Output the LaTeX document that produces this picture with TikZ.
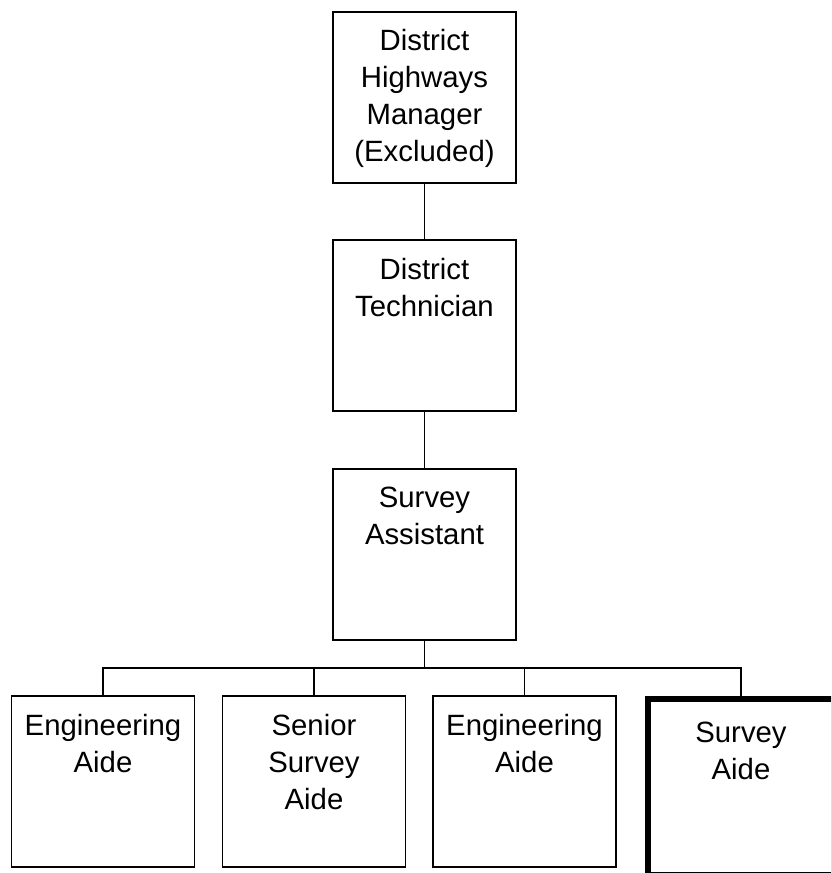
\documentclass[tikz,border=0pt]{standalone}
\usepackage{fontspec}
\setmainfont{Liberation Sans}
\tikzset{
  post/.style={draw, line width=1.3pt, inner sep=0pt, minimum width=137.25pt, minimum height=128.25pt, font=\fontsize{22pt}{27.75pt}\selectfont},
  keypost/.style={post, line width=4.5pt, minimum width=139.5pt, minimum height=132pt},
  link/.style={line width=1.3pt}
}
\newcommand{\posttext}[2][13.5pt]{\parbox[c][128.25pt][t]{137.25pt}{\centering\vspace*{#1}#2}}

\begin{document}
\begin{tikzpicture}[x=0.75pt,y=-0.75pt]
  \useasboundingbox (0,0) rectangle (831,873);
  \clip (0,0) rectangle (831,873);
  % chain of posts
  \node[post] (dhm) at (424.5,97.5) {\posttext[12.75pt]{District\\Highways\\Manager\\(Excluded)}};
  \node[post] (dtech) at (424.5,325.5) {\posttext{District\\Technician}};
  \node[post] (sassist) at (424.5,554.5) {\posttext{Survey\\Assistant}};
  \coordinate (bus) at (424.5,668);
  % bottom row
  \node[post] (eaide1) at (103,781.5) {\posttext{Engineering\\Aide}};
  \node[post] (ssaide) at (314,781.5) {\posttext{Senior\\Survey\\Aide}};
  \node[post] (eaide2) at (524.5,781.5) {\posttext{Engineering\\Aide}};
  \node[keypost] (saide) at (741,787) {\posttext[15.2pt]{Survey\\Aide}};
  % connectors
  \draw[link] (dhm) -- (dtech);
  \draw[link] (dtech) -- (sassist);
  \draw[link] (sassist) -- (bus);
  \draw[link] (eaide1.north) |- (bus) -| (saide.north);
  \foreach \n in {ssaide,eaide2}
    \draw[link] (\n.north) -- (\n.north |- bus);
\end{tikzpicture}
\end{document}
